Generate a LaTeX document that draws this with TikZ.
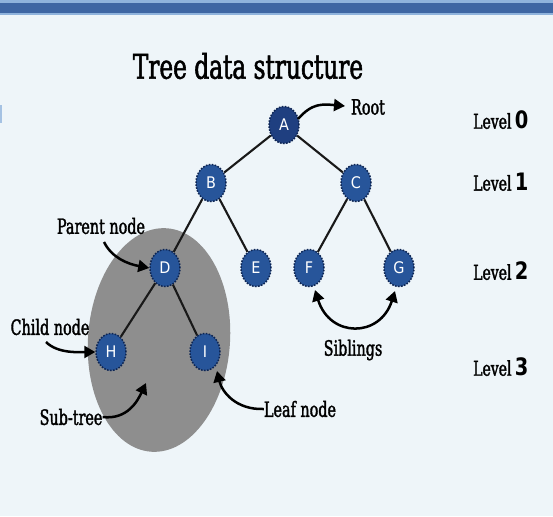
\documentclass[tikz,border=0pt]{standalone}
\usepackage{fontspec}
\setmainfont{DejaVu Serif Condensed}[FakeStretch=0.76, FakeBold=1.6]
\newfontfamily\lettfont{DejaVu Sans Condensed}
\newfontfamily\digfont{DejaVu Sans Condensed Bold}[FakeStretch=0.9]
\usetikzlibrary{arrows.meta,shapes.geometric}
\definecolor{bg}{HTML}{EEF5F9}
\definecolor{barblue}{HTML}{3E66A3}
\definecolor{barlight}{HTML}{8FB3DC}
\definecolor{nodeblue}{HTML}{27559A}
\definecolor{nodetop}{HTML}{1F3F80}
\definecolor{nodeedge}{HTML}{0E2552}
\definecolor{subgray}{HTML}{8E8E8E}
\tikzset{
  treenode/.style={ellipse, minimum width=30pt, minimum height=37pt, inner sep=0pt,
    fill=nodeblue, draw=nodeedge, line width=1.5pt, dash pattern=on 1.6pt off 1.4pt,
    text=white, font=\lettfont\fontsize{16}{16}\selectfont},
  edge/.style={line width=2.1pt, draw=black!90},
  callout/.style={line width=2.5pt, -{Triangle[length=11pt,width=12pt]}},
  lbl/.style={font=\fontsize{21}{21}\selectfont, inner sep=0pt},
  lvl/.style={font=\fontsize{20.5}{20.5}\selectfont, inner sep=0pt, anchor=west}
}
\newcommand{\lvlnum}[1]{{\digfont\fontsize{24}{24}\selectfont #1}}
\begin{document}
\begin{tikzpicture}[x=1pt,y=-1pt]
\useasboundingbox (0,0) rectangle (553,516);
\fill[bg] (0,0) rectangle (553,516);
\fill[barlight] (0,0) rectangle (553,15);
\fill[barblue] (0,3) rectangle (553,13);
\fill[barlight!80] (0,105) rectangle (2,123);

\fill[subgray, rotate around={-4:(159,340)}] (159,340) ellipse [x radius=71, y radius=112];

\node[font=\fontsize{34}{34}\selectfont, inner sep=0pt] (title) at (248,66) {Tree data structure};

\node[treenode, fill=nodetop] (A) at (284,125) {A};
\node[treenode] (B) at (211,183) {B};
\node[treenode] (C) at (356,183) {C};
\node[treenode] (D) at (165,268) {D};
\node[treenode] (E) at (256,268) {E};
\node[treenode] (F) at (309,268) {F};
\node[treenode] (G) at (399,268) {G};
\node[treenode] (H) at (111,352) {H};
\node[treenode] (I) at (205,352) {I};

\draw[edge] (A) -- (B);
\draw[edge] (A) -- (C);
\draw[edge] (B) -- (D);
\draw[edge] (B) -- (E);
\draw[edge] (C) -- (F);
\draw[edge] (C) -- (G);
\draw[edge] (D) -- (H);
\draw[edge] (D) -- (I);

\node[lbl] (root) at (368,107) {Root};
\node[lvl] (l0) at (473,120) {Level\,\lvlnum{0}};
\node[lvl] (l1) at (473,182) {Level\,\lvlnum{1}};
\node[lvl] (l2) at (473,271) {Level\,\lvlnum{2}};
\node[lvl] (l3) at (473,367) {Level\,\lvlnum{3}};
\node[lbl] (sib) at (353,350) {Siblings};
\node[lbl] (parent) at (101,226) {Parent node};
\node[lbl] (child) at (50,327) {Child node};
\node[lbl] (sub) at (71,417) {Sub-tree};
\node[lbl] (leaf) at (300,409) {Leaf node};

\coordinate (rs) at (298,119);
\coordinate (rt) at (345,106);
\draw[callout] (rs) .. controls (312,103) and (322,104) .. (rt);
\coordinate (ps) at (104,242);
\draw[callout] (ps) .. controls (112,258) and (128,264) .. (D.west);
\coordinate (cs) at (46,342);
\draw[callout] (cs) .. controls (58,354) and (80,352) .. (H.west);
\coordinate (ss) at (sub.east);
\draw[callout] (ss) .. controls (128,420) and (138,400) .. (146,383);
\coordinate (ls) at (leaf.west);
\draw[callout] (ls) .. controls (236,410) and (222,392) .. (217,371);
\coordinate (fs) at (315,290);
\coordinate (gs) at (395,291);
\draw[line width=2.5pt, {Triangle[length=11pt,width=12pt]}-{Triangle[length=11pt,width=12pt]}] (fs) .. controls (330,338) and (380,338) .. (gs);
\end{tikzpicture}
\end{document}
